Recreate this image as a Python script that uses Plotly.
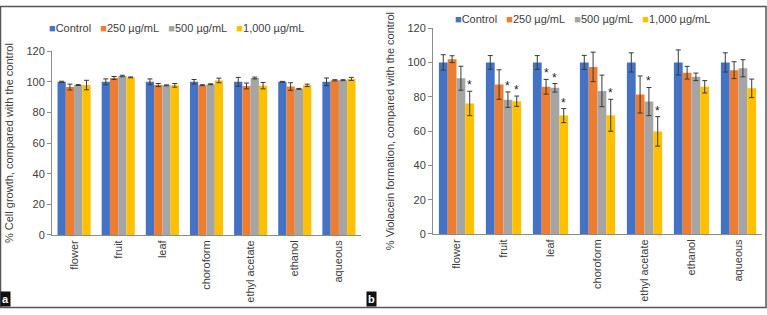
import plotly.graph_objects as go

# ---------------- data ----------------
categories = ["flower", "fruit", "leaf", "choroform", "ethyl acetate", "ethanol", "aqueous"]
series_names = ["Control", "250 µg/mL", "500 µg/mL", "1,000 µg/mL"]
colors = ["#4472C4", "#ED7D31", "#A5A5A5", "#FFC000"]

# Panel a: % cell growth
growth_control = [100, 100, 100, 100, 100, 100, 100]
growth_control_err = [0.4, 1.9, 1.9, 1.5, 2.9, 0.3, 2.5]
growth_250 = [96.6, 102.5, 97.9, 97.8, 97.3, 96.9, 101.0]
growth_250_err = [1.9, 1.0, 1.0, 0.3, 1.9, 2.5, 0.4]
growth_500 = [97.9, 103.8, 97.7, 98.4, 102.5, 95.4, 101.1]
growth_500_err = [0.3, 0.5, 0.3, 0.3, 0.6, 0.3, 0.3]
growth_1000 = [97.9, 102.9, 97.7, 100.9, 97.5, 97.7, 101.9]
growth_1000_err = [3.1, 0.3, 1.2, 1.5, 2.1, 0.8, 1.0]

# Panel b: % violacein formation
viol_control = [100, 100, 100, 100, 100, 100, 100]
viol_control_err = [4.5, 4.0, 4.0, 4.1, 5.6, 7.3, 5.6]
viol_250 = [101.9, 87.1, 85.8, 97.4, 81.3, 94.0, 95.5]
viol_250_err = [2.0, 8.6, 4.3, 8.6, 10.8, 3.7, 4.9]
viol_500 = [90.8, 78.3, 85.2, 83.4, 77.2, 91.6, 96.6]
viol_500_err = [7.0, 4.5, 2.5, 9.2, 8.2, 2.2, 5.0]
viol_1000 = [76.1, 77.4, 69.0, 69.2, 59.8, 85.8, 84.9]
viol_1000_err = [7.1, 3.0, 4.1, 9.3, 8.6, 3.6, 5.4]
# significance markers (*) for panel b
viol_250_sig = [0, 0, 1, 0, 0, 0, 0]
viol_500_sig = [0, 1, 1, 0, 1, 0, 0]
viol_1000_sig = [1, 1, 1, 1, 1, 0, 0]

y_ticks = [0, 20, 40, 60, 80, 100, 120]

# ---------------- figure ----------------
W, H = 767, 315
TXT = "#404040"
AX = "#8c8c8c"
FONT = "Liberation Sans, Arial, sans-serif"
BARGAP = 0.25

fig = go.Figure()

panel_a = [(growth_control, growth_control_err), (growth_250, growth_250_err),
           (growth_500, growth_500_err), (growth_1000, growth_1000_err)]
panel_b = [(viol_control, viol_control_err), (viol_250, viol_250_err),
           (viol_500, viol_500_err), (viol_1000, viol_1000_err)]

for (vals, err), name, col in zip(panel_a, series_names, colors):
    fig.add_trace(go.Bar(x=categories, y=vals, name=name, marker_color=col,
                         marker_line_width=0, showlegend=False,
                         error_y=dict(type="data", array=err, visible=True,
                                      color="#3a3a3a", thickness=1, width=2.5),
                         xaxis="x", yaxis="y", offsetgroup=name + "a"))
for (vals, err), name, col in zip(panel_b, series_names, colors):
    fig.add_trace(go.Bar(x=categories, y=vals, name=name, marker_color=col,
                         marker_line_width=0, showlegend=False,
                         error_y=dict(type="data", array=err, visible=True,
                                      color="#3a3a3a", thickness=1, width=2.5),
                         xaxis="x2", yaxis="y2", offsetgroup=name + "b"))

def px_x(p):
    return p / W

def px_y(p):
    return 1 - p / H

axis_common = dict(showgrid=False, zeroline=False, linecolor=AX, linewidth=1,
                   tickfont=dict(size=11, color=TXT, family=FONT))

fig.update_layout(
    width=W, height=H,
    margin=dict(l=0, r=0, t=0, b=0),
    paper_bgcolor="white", plot_bgcolor="white",
    barmode="group", bargap=BARGAP, bargroupgap=0,
    font=dict(family=FONT, size=11, color=TXT),
    xaxis=dict(domain=[px_x(52), px_x(361)], anchor="y", showline=True,
               ticks="", tickangle=-90, **axis_common),
    yaxis=dict(domain=[px_y(238), px_y(47)], anchor="x", range=[0, 120],
               tickvals=y_ticks, showline=True, ticks="outside", ticklen=4,
               tickcolor=AX,
               title=dict(text="% Cell growth, compared with the control",
                          font=dict(size=11, color=TXT), standoff=10),
               **axis_common),
    xaxis2=dict(domain=[px_x(433), px_x(762)], anchor="y2", showline=True,
                ticks="", tickangle=-90, **axis_common),
    yaxis2=dict(domain=[px_y(237), px_y(23)], anchor="x2", range=[0, 120],
                tickvals=y_ticks, showline=True, ticks="outside", ticklen=4,
                tickcolor=AX,
                title=dict(text="% Violacein formation, compared with the control",
                           font=dict(size=11, color=TXT), standoff=10),
                **axis_common),
)

# significance asterisks, positioned at the grouped-bar offsets
group_w = 1 - BARGAP
bar_w = group_w / 4
annotations = []
for k, sig, (vals, err) in [(1, viol_250_sig, panel_b[1]), (2, viol_500_sig, panel_b[2]),
                            (3, viol_1000_sig, panel_b[3])]:
    off = -group_w / 2 + (k + 0.5) * bar_w
    for i, s in enumerate(sig):
        if s:
            annotations.append(dict(x=i + off, y=vals[i] + err[i], xref="x2", yref="y2",
                                    text="*", showarrow=False, yanchor="bottom",
                                    yshift=-3, font=dict(size=12, color="#222")))

# legends (compact, Excel-style)
def legend_text():
    parts = []
    for name, col in zip(series_names, colors):
        parts.append(f"<span style='color:{col}'>■</span>{name}")
    return "\u00a0\u00a0\u00a0".join(parts)

annotations.append(dict(x=px_x(47), y=px_y(23), xref="paper", yref="paper",
                        xanchor="left", yanchor="middle", text=legend_text(),
                        showarrow=False, font=dict(size=11, color=TXT)))
annotations.append(dict(x=px_x(453), y=px_y(14), xref="paper", yref="paper",
                        xanchor="left", yanchor="middle", text=legend_text(),
                        showarrow=False, font=dict(size=11, color=TXT)))

# panel letters
annotations.append(dict(x=0, y=px_y(313), xref="paper", yref="paper",
                        xanchor="left", yanchor="bottom", text="<b>a</b>",
                        showarrow=False, bgcolor="#111", borderpad=1,
                        font=dict(size=11, color="white")))
annotations.append(dict(x=px_x(366), y=px_y(313), xref="paper", yref="paper",
                        xanchor="left", yanchor="bottom", text="<b>b</b>",
                        showarrow=False, bgcolor="#111", borderpad=1,
                        font=dict(size=11, color="white")))

fig.update_layout(annotations=annotations)

# outer frame
fig.add_shape(type="rect", xref="paper", yref="paper",
              x0=px_x(0.5), x1=px_x(766), y0=px_y(313.5), y1=px_y(0.5),
              line=dict(color="#555", width=1.5), fillcolor="rgba(0,0,0,0)")

page_fix = (
    "document.documentElement.style.margin='0';"
    "document.documentElement.style.overflow='hidden';"
    "document.body.style.margin='0';"
    "document.body.style.overflow='hidden';"
    "var gd=document.getElementById('{plot_id}');"
    "gd.style.position='fixed';gd.style.left='0px';gd.style.top='0px';"
)

fig.write_html("out.html", config={"displayModeBar": False}, post_script=page_fix)
